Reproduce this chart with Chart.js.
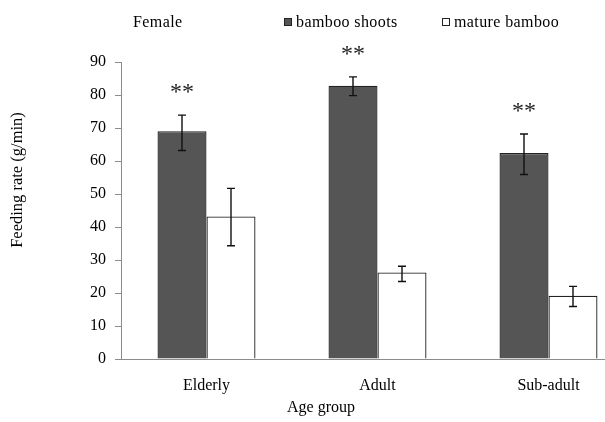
<!DOCTYPE html>
<html>
<head>
<meta charset="utf-8">
<script src="https://cdn.jsdelivr.net/npm/chart.js@4/dist/chart.umd.min.js"></script>
<style>
  html, body { margin: 0; padding: 0; background: #fff; overflow: hidden; }
  #wrap { width: 640px; height: 422px; }
</style>
</head>
<body>
<div id="wrap"><canvas id="chart" width="640" height="422"></canvas></div>
<script>
// ── Data ───────────────────────────────────────────────────────────────────
const groups      = ['Elderly', 'Adult', 'Sub-adult'];
const shoots      = [69.0, 82.8, 62.4];
const shootsLow   = [63.2, 79.8, 55.9];
const shootsHigh  = [73.9, 85.5, 68.2];
const mature      = [43.2, 26.2, 19.2];
const matureLow   = [34.3, 23.5, 15.9];
const matureHigh  = [51.7, 28.1, 22.0];
const signif      = ['**', '**', '**'];
const yTicks      = [0, 10, 20, 30, 40, 50, 60, 70, 80, 90];

const SERIF = '"Liberation Serif", "Times New Roman", serif';
const AXIS  = '#8c8c8c';

// ── Error bars, stars, legend and axis titles ─────────────────────────────
const annotate = {
  id: 'annotate',
  afterDatasetsDraw(chart) {
    const ctx = chart.ctx;
    const y = chart.scales.y;
    const ranges = [[shootsLow, shootsHigh], [matureLow, matureHigh]];
    ctx.save();
    ctx.strokeStyle = '#111';
    ctx.lineWidth = 1.4;
    ranges.forEach(([lo, hi], di) => {
      chart.getDatasetMeta(di).data.forEach((bar, i) => {
        const x = bar.x, yl = y.getPixelForValue(lo[i]), yh = y.getPixelForValue(hi[i]);
        ctx.beginPath();
        ctx.moveTo(x, yl); ctx.lineTo(x, yh);
        ctx.moveTo(x - 4, yl); ctx.lineTo(x + 4, yl);
        ctx.moveTo(x - 4, yh); ctx.lineTo(x + 4, yh);
        ctx.stroke();
      });
    });
    // significance marks above the shoots bars
    ctx.fillStyle = '#222';
    ctx.font = '24px ' + SERIF;
    ctx.textAlign = 'center';
    ctx.textBaseline = 'middle';
    chart.getDatasetMeta(0).data.forEach((bar, i) => {
      ctx.fillText(signif[i], bar.x, y.getPixelForValue(shootsHigh[i]) - 22);
    });
    ctx.restore();
  },
  afterDraw(chart) {
    const ctx = chart.ctx;
    ctx.save();
    ctx.fillStyle = '#000';
    ctx.font = '16px ' + SERIF;
    ctx.textBaseline = 'alphabetic';
    ctx.textAlign = 'left';
    ctx.letterSpacing = '0.4px';
    ctx.fillText('Female', 133, 27);

    const ds = chart.data.datasets;
    const items = [[284, ds[0]], [442, ds[1]]];
    items.forEach(([x, d]) => {
      ctx.fillStyle = d.backgroundColor;
      ctx.strokeStyle = '#222';
      ctx.lineWidth = 1;
      ctx.fillRect(x + 0.5, 18.5, 7, 7);
      ctx.strokeRect(x + 0.5, 18.5, 7, 7);
      ctx.fillStyle = '#000';
      ctx.fillText(d.label, x + 12, 27);
    });

    // axis titles
    ctx.letterSpacing = '0px';
    ctx.textAlign = 'center';
    ctx.fillText('Age group', 321, 412);
    ctx.font = '16.5px ' + SERIF;
    ctx.textBaseline = 'middle';
    ctx.translate(18, 180);
    ctx.rotate(-Math.PI / 2);
    ctx.fillText('Feeding rate (g/min)', 0, 0);
    ctx.restore();
  }
};

new Chart(document.getElementById('chart').getContext('2d'), {
  type: 'bar',
  data: {
    labels: groups,
    datasets: [
      { label: 'bamboo shoots', data: shoots, backgroundColor: '#555555',
        borderColor: '#222', borderWidth: 1.3 },
      { label: 'mature bamboo', data: mature, backgroundColor: '#ffffff',
        borderColor: '#222', borderWidth: 1.3 },
    ]
  },
  options: {
    responsive: false,
    animation: false,
    layout: { padding: { top: 62, right: 6, left: 0, bottom: 0 } },
    datasets: { bar: { barPercentage: 1, categoryPercentage: 0.573 } },
    plugins: { legend: { display: false }, tooltip: { enabled: false } },
    scales: {
      x: {
        afterFit: s => { s.height = 63; },
        grid: { display: false, drawTicks: false },
        border: { display: true, color: AXIS, width: 1 },
        ticks: { color: '#000', padding: 17, font: { family: SERIF, size: 16 } },
      },
      y: {
        min: 0, max: 90,
        afterFit: s => { s.width = 121; },
        afterBuildTicks: s => { s.ticks = yTicks.map(v => ({ value: v })); },
        grid: { drawOnChartArea: false, drawTicks: true, tickLength: 6, color: AXIS },
        border: { display: true, color: AXIS, width: 1 },
        ticks: { color: '#000', padding: 9, font: { family: SERIF, size: 16 } },
      }
    }
  },
  plugins: [annotate]
});
</script>
</body>
</html>
